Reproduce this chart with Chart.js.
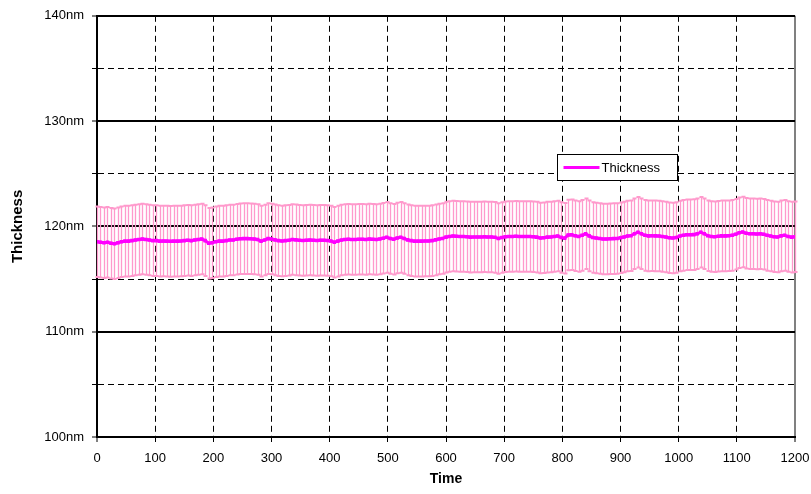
<!DOCTYPE html>
<html>
<head>
<meta charset="utf-8">
<script src="https://cdn.jsdelivr.net/npm/chart.js@4/dist/chart.umd.min.js"></script>
<style>
    body { margin: 0; background: #ffffff; }
    #wrap { width: 811px; height: 494px; }
</style>
</head>
<body>
<div id="wrap"><canvas id="thicknessChart" width="811" height="494"></canvas></div>
<script>
// mean thickness (nm), one reading every 6 time units, 0..1200
const thickness = [
    118.55, 118.5, 118.45, 118.5, 118.4, 118.35, 118.45, 118.55, 118.6, 118.6,
    118.65, 118.7, 118.75, 118.8, 118.75, 118.7, 118.65, 118.65, 118.6, 118.62,
    118.6, 118.58, 118.6, 118.6, 118.62, 118.65, 118.68, 118.65, 118.7, 118.75,
    118.8, 118.65, 118.4, 118.45, 118.55, 118.6, 118.6, 118.65, 118.7, 118.7,
    118.78, 118.82, 118.84, 118.84, 118.82, 118.8, 118.75, 118.6, 118.7, 118.84,
    118.8, 118.72, 118.65, 118.62, 118.65, 118.68, 118.75, 118.72, 118.68, 118.66,
    118.68, 118.7, 118.68, 118.66, 118.68, 118.68, 118.66, 118.62, 118.5, 118.6,
    118.7, 118.76, 118.78, 118.76, 118.75, 118.78, 118.78, 118.76, 118.8, 118.78,
    118.75, 118.8, 118.88, 118.96, 118.85, 118.78, 118.9, 118.96, 118.85, 118.72,
    118.65, 118.6, 118.6, 118.6, 118.62, 118.62, 118.65, 118.72, 118.8, 118.86,
    118.98, 119.05, 119.08, 119.06, 119.05, 119.04, 119.02, 118.98, 119.0, 119.0,
    119.0, 119.02, 119.0, 119.0, 118.96, 118.85, 118.95, 119.02, 119.05, 119.05,
    119.06, 119.04, 119.05, 119.05, 119.04, 119.02, 118.98, 118.9, 118.92, 118.98,
    119.0, 119.05, 119.08, 118.95, 118.88, 119.18, 119.2, 119.12, 119.05, 119.15,
    119.3, 119.1, 118.95, 118.9, 118.85, 118.8, 118.8, 118.82, 118.84, 118.86,
    118.92, 119.0, 119.08, 119.12, 119.3, 119.45, 119.3, 119.15, 119.1, 119.12,
    119.1, 119.08, 119.05, 119.0, 118.92, 118.9, 118.95, 119.08, 119.15, 119.2,
    119.2, 119.22, 119.3, 119.45, 119.3, 119.12, 119.05, 119.02, 119.06, 119.1,
    119.1, 119.12, 119.15, 119.25, 119.4, 119.46, 119.35, 119.3, 119.3, 119.28,
    119.3, 119.25, 119.15, 119.08, 119.02, 119.0, 119.1, 119.15, 119.05, 118.98,
    119.02
];
const timeStep = 6;
const times = thickness.map((v, i) => i * timeStep);
const errorSize = 3.35; // +/- nm

const seriesName = 'Thickness';
const yMin = 100, yMax = 140, yStep = 5;
const xMin = 0, xMax = 1200, xStep = 100;

Chart.defaults.font.family = '"Liberation Sans", Arial, sans-serif';
Chart.defaults.font.size = 13;
Chart.defaults.color = '#000000';

// pink error bars, drawn under the mean line
const errorBars = {
    id: 'errorBars',
    beforeDatasetsDraw(chart) {
        const {ctx, scales: {x, y}} = chart;
        ctx.save();
        ctx.strokeStyle = '#FF99CC';
        ctx.lineWidth = 1.3;
        ctx.beginPath();
        times.forEach((t, i) => {
            const px = Math.round(x.getPixelForValue(t)) + 0.5;
            const top = y.getPixelForValue(thickness[i] + errorSize);
            const bot = y.getPixelForValue(thickness[i] - errorSize);
            ctx.moveTo(px, top);
            ctx.lineTo(px, bot);
        });
        ctx.stroke();
        // caps
        ctx.lineWidth = 2;
        ctx.beginPath();
        times.forEach((t, i) => {
            const px = Math.round(x.getPixelForValue(t)) + 0.5;
            const top = y.getPixelForValue(thickness[i] + errorSize);
            const bot = y.getPixelForValue(thickness[i] - errorSize);
            ctx.moveTo(px - 2, top);
            ctx.lineTo(px + 2, top);
            ctx.moveTo(px - 2, bot);
            ctx.lineTo(px + 2, bot);
        });
        ctx.stroke();
        ctx.restore();
    }
};

// boxed legend inside the plot, like the original
const boxLegend = {
    id: 'boxLegend',
    afterDraw(chart) {
        const {ctx, scales: {x, y}} = chart;
        const left = Math.round(x.getPixelForValue(790)) + 0.5;
        const top = Math.round(y.getPixelForValue(126.85)) + 0.5;
        const w = 120, h = 26;
        ctx.save();
        ctx.fillStyle = '#ffffff';
        ctx.fillRect(left, top, w, h);
        ctx.strokeStyle = '#000000';
        ctx.lineWidth = 1;
        ctx.strokeRect(left, top, w, h);
        ctx.strokeStyle = '#FF00FF';
        ctx.lineWidth = 3;
        ctx.beginPath();
        ctx.moveTo(left + 6, top + h / 2);
        ctx.lineTo(left + 42, top + h / 2);
        ctx.stroke();
        ctx.fillStyle = '#000000';
        ctx.font = '13px "Liberation Sans", Arial, sans-serif';
        ctx.textBaseline = 'middle';
        ctx.fillText(seriesName, left + 44, top + h / 2 + 1);
        ctx.restore();
    }
};

const isMajor = (c) => c.tick && c.tick.value % 10 === 0;

new Chart(document.getElementById('thicknessChart'), {
    type: 'line',
    data: {
        datasets: [{
            label: seriesName,
            data: times.map((t, i) => ({x: t, y: thickness[i]})),
            borderColor: '#FF00FF',
            backgroundColor: '#FF00FF',
            borderWidth: 3,
            pointStyle: 'rect',
            pointRadius: 2.5,
            pointBorderWidth: 0,
            tension: 0,
            fill: false
        }]
    },
    options: {
        responsive: false,
        animation: false,
        layout: {
            padding: {top: 14, right: 16, left: 5, bottom: 2}
        },
        plugins: {
            legend: {display: false},
            tooltip: {enabled: false}
        },
        scales: {
            x: {
                type: 'linear',
                min: xMin,
                max: xMax,
                afterFit: (s) => {
                    s.height = 55;
                    s.paddingRight = 2;
                    s.paddingLeft = 2;
                },
                ticks: {
                    stepSize: xStep,
                    padding: 9,
                    maxRotation: 0,
                    autoSkip: false,
                    callback: (v) => String(v)
                },
                title: {
                    display: true,
                    text: 'Time',
                    font: {size: 14, weight: 'bold'}
                },
                grid: {
                    color: (c) => (c.tick && c.tick.value === xMax) ? '#808080' : '#000000',
                    lineWidth: (c) => (c.tick && (c.tick.value === xMax || c.tick.value === xMin)) ? 2 : 1,
                    tickColor: '#000000',
                    tickWidth: 1,
                    tickLength: 5
                },
                border: {
                    color: '#000000',
                    width: 2,
                    dash: (c) => (c.tick && c.tick.value !== xMin && c.tick.value !== xMax) ? [6, 4] : []
                }
            },
            y: {
                min: yMin,
                max: yMax,
                afterFit: (s) => { s.width = 92; },
                ticks: {
                    stepSize: yStep,
                    padding: 8,
                    autoSkip: false,
                    callback: (v) => v % 10 === 0 ? v + 'nm' : ''
                },
                title: {
                    display: true,
                    text: 'Thickness',
                    font: {size: 15, weight: 'bold'}
                },
                grid: {
                    color: '#000000',
                    lineWidth: (c) => isMajor(c) ? 2 : 1,
                    tickColor: '#000000',
                    tickWidth: 1,
                    tickLength: 5
                },
                border: {
                    color: '#000000',
                    width: 2,
                    dash: (c) => (c.tick && !isMajor(c)) ? [6, 4] : []
                }
            }
        }
    },
    plugins: [errorBars, boxLegend]
});
</script>
</body>
</html>
